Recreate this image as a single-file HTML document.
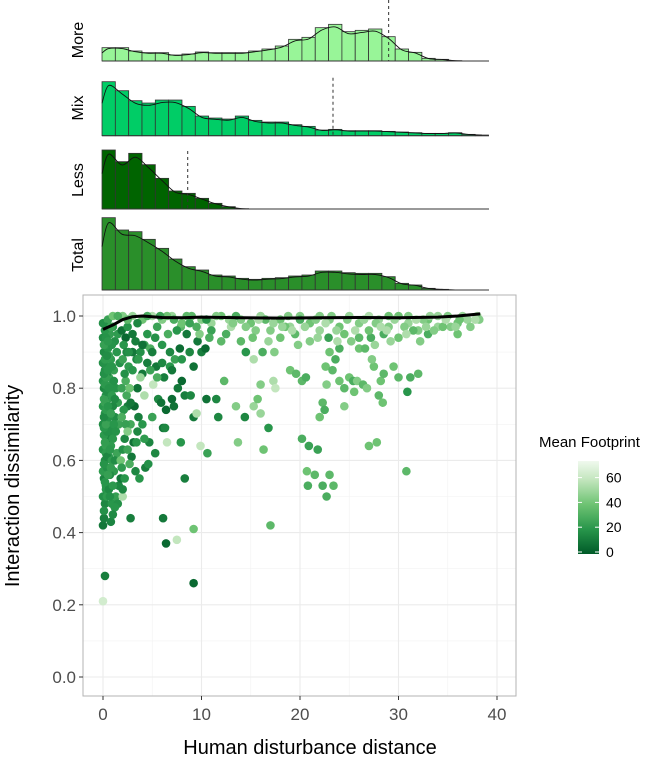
<!DOCTYPE html>
<html><head><meta charset="utf-8"><style>
body{margin:0;background:#fff;}
svg{display:block;font-family:"Liberation Sans",sans-serif;}
</style></head><body>
<svg id="c" width="663" height="758" xmlns="http://www.w3.org/2000/svg"></svg>
<script>
// ---- data ----
const binStart=-0.1, binWidth=1.353;
const moreCounts=[40,40,30,25,25,18,21,27,25,25,25,30,36,45,65,71,100,110,88,92,96,73,36,26,8,5,1,0,0];
const mixCounts=[162,135,105,98,107,107,88,59,53,50,59,46,41,41,33,28,17,19,15,15,15,13,11,9,7,7,9,4,2];
const lessCounts=[177,142,167,133,92,54,47,32,17,7,1,0,0,0,0,0,0,0,0,0,0,0,0,0,0,0,0,0,0];
const totalCounts=[217,180,175,152,125,93,70,60,45,42,35,32,35,37,42,45,57,57,52,50,50,40,20,15,5,2,0,0,0];
const histNames=["More","Mix","Less","Total"];
const histMeans=[29.0,23.35,8.6,null];
const xTicks=[0,10,20,30,40];
const yTicks=[0,0.2,0.4,0.6,0.8,1.0];
const yTickLabels=["0.0","0.2","0.4","0.6","0.8","1.0"];
const legendTicks=[0,20,40,60];
const smoothX=[0,1,2,3,4,6,8,10,14,18,22,26,30,34,36,38.3];
const smoothY=[0.963,0.975,0.99,0.998,1.0,0.996,0.995,0.997,0.995,0.994,0.995,0.996,0.995,0.997,1.0,1.006];
const ptsX=[],ptsY=[],ptsC=[];
const raw=[[0,0.42,10],[0.1,0.44,12],[0.2,0.48,15],[0,0.5,18],[0.3,0.53,20],[0.1,0.55,14],[0,0.57,22],[0.4,0.58,18],[0.2,0.6,16],[0.6,0.61,20],[0,0.63,19],[0.3,0.64,24],[0.5,0.66,15],[0.1,0.67,21],[0.8,0.68,18],[0,0.7,17],[0.4,0.71,23],[0.2,0.73,19],[0.7,0.74,16],[0,0.75,20],[0.5,0.77,22],[0.3,0.78,18],[0.1,0.8,15],[0.9,0.81,21],[0,0.82,19],[0.6,0.83,24],[0.2,0.85,17],[0.4,0.86,20],[0,0.87,18],[0.8,0.88,22],[0.1,0.9,16],[0.5,0.91,19],[0.3,0.92,21],[0,0.94,17],[0.7,0.95,23],[0.2,0.96,20],[0,0.98,18],[0.5,0.99,25],[1.0,0.97,22],[1.2,0.93,18],[1.4,0.9,20],[1.1,0.85,24],[1.3,0.8,19],[1.5,0.76,23],[1.2,0.72,17],[1.0,0.66,21],[1.4,0.62,26],[1.1,0.57,22],[1.6,0.53,15],[1.3,0.5,24],[0.9,0.48,20],[1.8,0.55,10],[1.5,0.48,18],[0.8,0.43,14],[0.2,0.28,12],[0,0.21,65],
[0.3,0.62,22],[0.6,0.69,18],[0.2,0.76,25],[0.7,0.79,20],[0.4,0.84,16],[0.6,0.89,24],[0.9,0.92,19],[0.3,0.52,20],[0.7,0.56,17],[0.5,0.72,28],[1.0,0.75,15],[0.8,0.64,22],[1.6,0.7,25],[1.7,0.87,18],[1.5,0.95,22],
[0.1,0.46,18],[0.4,0.5,22],[0.6,0.52,16],[0.2,0.54,20],[0.5,0.56,24],[0.1,0.59,19],[0.4,0.61,15],[0.7,0.63,21],[0.2,0.65,23],[0.4,0.68,18],[0.1,0.69,20],[0.3,0.7,25],[0.6,0.72,19],[0.1,0.72,16],[0.3,0.74,22],[0.5,0.75,20],[0.1,0.77,24],[0.4,0.79,17],[0.2,0.81,21],[0.6,0.8,19],[0.3,0.83,23],[0.1,0.84,18],[0.5,0.85,20],[0.2,0.88,22],[0.4,0.89,17],[0.1,0.92,24],[0.3,0.94,19],[0.5,0.93,21],[0.3,0.97,18],[0.8,0.97,26],[0.9,0.86,20],[1.1,0.82,18],[0.9,0.78,22],[1.2,0.77,16],[0.8,0.73,24],[1.1,0.7,20],[1.3,0.68,19],[0.9,0.6,22],[1.2,0.6,17],[0.8,0.58,23],[1.0,0.53,21],[0.7,0.5,18],[1.2,0.47,20],[1.0,0.45,16],
[2,0.88,25],[2.3,0.82,30],[2.5,0.75,12],[2.8,0.7,28],[2.2,0.66,15],[2.9,0.61,10],[3.1,0.65,8],[2.7,0.59,30],[2,0.5,55],[1.8,0.6,40],[2.8,0.44,12],[3.3,0.57,15],[3.7,0.55,20],[4.7,0.65,14],[4.3,0.58,12],[5.3,0.62,15],[4.6,0.59,18],[3.5,0.8,8],[3.2,0.75,5],[4.0,0.84,10],[4.5,0.87,12],[4.2,0.78,55],[3.8,0.83,50],[5.1,0.81,60],[5.6,0.77,15],[6.1,0.69,10],[6.3,0.69,15],[5.9,0.76,8],[6.4,0.74,5],[6.5,0.65,60],[7.0,0.77,6],[7.2,0.75,8],[7.6,0.8,10],[8.0,0.82,5],[8.3,0.78,12],[7.9,0.65,20],[8.3,0.55,12],[9.2,0.72,10],[9.5,0.73,55],[9.2,0.86,8],[9.6,0.93,10],[10,0.9,12],[10.4,0.91,5],[10.5,0.77,8],[11.5,0.77,15],[10.6,0.62,25],[9.9,0.64,60],[8.9,0.78,15],[7.8,0.91,6],[6.8,0.9,15],[6.0,0.92,20],[5.3,0.94,18],[6.1,0.44,10],[6.4,0.37,5],[7.5,0.38,60],[9.2,0.41,40],[9.2,0.26,5],[2.8,0.76,10],[3.3,0.93,12],[4.5,0.95,20],[8.5,0.95,10],[1.9,0.96,8],[2.3,0.94,5],
[2.1,0.92,20],[2.4,0.9,15],[2.6,0.86,22],[2.2,0.84,18],[1.9,0.8,25],[2.4,0.78,28],[2.1,0.74,20],[1.9,0.72,30],[2.3,0.7,24],[2.0,0.63,18],[2.5,0.63,26],[1.9,0.58,22],[2.2,0.55,20],[2.0,0.52,15],[2.5,0.68,45],[2.7,0.8,40],[3.0,0.85,20],[3.4,0.88,15],[3.0,0.9,10],[3.8,0.9,18],[4.2,0.92,25],[4.8,0.91,30],[3.6,0.72,12],[4.0,0.7,20],[3.5,0.68,15],[4.2,0.66,22],[5.0,0.72,25],[5.4,0.86,10],[6.2,0.83,12],[6.8,0.86,20],[7.3,0.88,25],[8.8,0.9,15],[9.8,0.95,45],[6.6,0.95,30],[7.9,0.97,35],[3.4,0.65,20],
[11.7,0.72,15],[12.3,0.82,35],[13.5,0.75,45],[14.4,0.72,15],[13.7,0.65,45],[14.5,0.9,20],[15.3,0.88,55],[15.3,0.75,50],[15.7,0.77,40],[16,0.81,45],[16,0.73,50],[16.3,0.63,40],[16.8,0.69,20],[17.3,0.82,55],[17.5,0.8,60],[17.4,0.9,45],[16.2,0.9,30],[17,0.42,35],[19,0.85,40],[19.6,0.84,35],[20.2,0.82,35],[20.6,0.83,30],[20.2,0.66,30],[20.7,0.57,40],[20.8,0.53,30],[20.9,0.64,25],[21.5,0.56,35],[21.8,0.63,25],[22.3,0.53,30],[22.7,0.5,30],[23.0,0.56,35],[23.4,0.53,35],[22.3,0.76,35],[22.5,0.74,30],[22.0,0.72,40],[22.7,0.81,45],[22.6,0.86,40],[23.3,0.85,35],[23.6,0.88,30],[23.0,0.9,40],[22.9,0.94,25],[24.0,0.82,40],[24.5,0.8,35],[24.5,0.75,45],[25,0.83,40],[25.4,0.82,30],[25.8,0.82,45],[25.5,0.79,40],[26.4,0.81,35],[26.8,0.8,45],[27.5,0.86,40],[27.3,0.88,45],[28.2,0.82,40],[28.5,0.84,35],[28.0,0.78,35],[28.4,0.76,40],[29.5,0.86,40],[30.0,0.83,35],[30.9,0.79,20],[31.2,0.83,30],[32.0,0.84,35],[30.8,0.57,35],[27.0,0.64,40],[27.8,0.65,40],[24.0,0.91,30],[26.0,0.91,40],[26.6,0.91,35],[27.2,0.94,30],[36,0.95,40],[35.3,0.97,45],
[1,1,40],[2,1,45],[3,1,50],[4,0.99,40],[5,1,55],[6,0.99,45],[7,1,50],[8,0.98,40],[9,1,35],[10,0.99,45],[11,0.98,50],[12,1,40],[13,0.97,55],[14,0.99,45],[15,0.98,40],[16,1,50],[17,0.96,45],[18,0.99,40],[19,0.97,50],[20,1,45],[21,0.98,40],[22,0.96,50],[23,0.99,45],[24,0.97,40],[25,1,50],[26,0.98,45],[27,0.96,40],[28,0.99,50],[29,0.97,45],[30,1,40],[31,0.98,50],[32,0.96,45],[33,0.99,40],[34,0.97,50],[35,1,45],[36,0.98,40],[37,0.99,50],[38,1,55],
[12.5,0.95,30],[14,0.93,35],[15.5,0.96,45],[18,0.94,40],[19.5,0.95,35],[21,0.93,45],[24.5,0.95,40],[26,0.94,35],[28.5,0.95,30],[30,0.94,40],[31.5,0.96,35],[33,0.95,30],[34.5,0.97,40],[11,0.96,25],[9.5,0.97,30],[7.5,0.96,20],[5.5,0.97,25],[3.5,0.98,15],[2.5,0.97,20],[20,0.99,30],[10.5,0.99,20],[13.5,1,30],[16.5,0.99,35],[29,1,40],[32.5,0.99,45],[36.5,1,50],[38.2,0.99,45],
[1.5,1,30],[2.5,0.99,35],[4.5,1,30],[6.5,1,40],[8.5,1,35],[3,0.95,10],[4,0.92,8],[5,0.9,12],[6,0.87,15],[7,0.85,10],[8,0.88,20],[4.8,0.85,25],[3.6,0.88,22],[2.6,0.9,18],[5.5,0.83,30],[18.5,0.97,40],[22,1,45],[27,1,55],[31,1,45],[34,1,50],
[11.5,1,45],[12.8,0.99,50],[14.5,0.97,45],[15.8,0.99,55],[17.3,0.98,50],[18.8,1,45],[19.2,0.96,55],[20.5,0.97,50],[21.6,0.99,45],[22.6,0.98,55],[23.7,0.96,50],[24.8,0.99,45],[25.6,0.96,55],[26.5,0.99,50],[27.7,0.98,45],[28.8,0.96,55],[29.6,0.99,50],[30.6,0.97,45],[31.8,0.99,55],[32.8,0.97,50],[33.6,0.96,45],[34.8,0.99,55],[35.8,0.97,50],[37.3,0.97,45],[37.8,0.99,55],[36.2,0.99,40],[33.2,1,50],[28.2,0.97,55],[23.2,1,45],[18.2,0.97,50],[13.2,0.98,45],[16.8,0.93,50],[19.8,0.92,45],[21.8,0.94,50],[25.2,0.93,45],[29.2,0.93,50],[32.2,0.93,45],[30.8,0.95,55],[27.6,0.92,50],[23.8,0.93,55],[15.2,0.94,40],[12.0,0.93,35],[10.8,0.94,30],[8.8,0.98,25],[7.2,0.99,30],[5.8,1,25]];
raw.forEach(p=>{ptsX.push(p[0]);ptsY.push(p[1]);ptsC.push(p[2]);});

// ---- scales ----
const X0=103, XPX=9.85; const sx=v=>X0+v*XPX;
const Y0=677, YPX=361; const sy=v=>Y0-v*YPX;
const stops=[[0,[0,90,40]],[20,[40,150,75]],[40,[110,195,115]],[60,[195,230,190]],[75,[240,249,238]]];
function col(c){for(let i=0;i<stops.length-1;i++){const a=stops[i],b=stops[i+1];if(c<=b[0]||i==stops.length-2){const t=Math.max(0,Math.min(1,(c-a[0])/(b[0]-a[0])));const r=a[1].map((v,k)=>Math.round(v+(b[1][k]-v)*t));return `rgb(${r})`;}}}
const svg=document.getElementById('c');const NS="http://www.w3.org/2000/svg";
function el(t,a,p){const e=document.createElementNS(NS,t);for(const k in a)e.setAttribute(k,a[k]);(p||svg).appendChild(e);return e;}

// ---- histograms ----
const histData=[moreCounts,mixCounts,lessCounts,totalCounts];
const histBase=[61,135.7,209,290];
const histFill=["#98f598","#00cd66","#006400","#2a8f2a"];
const histLabelY=[40,108,180,255];
const HS=1/3;
histData.forEach((arr,h)=>{
  const g=el('g',{});
  
  
  const base=histBase[h];
  arr.forEach((v,i)=>{
    if(v<=0)return;
    const r=el('rect',{x:sx(binStart+i*binWidth),y:base-v*HS,width:binWidth*XPX,height:v*HS,fill:histFill[h],stroke:'#333',"stroke-width":0.8},g);
    
    
  });
  let pts=arr.map((v,i)=>[sx(binStart+(i+0.5)*binWidth),base-v*HS*0.93]);
  pts.unshift([sx(binStart),base-arr[0]*HS*0.6]);
  let d="M"+pts[0][0]+","+pts[0][1];
  for(let i=0;i<pts.length-1;i++){const p0=pts[Math.max(0,i-1)],p1=pts[i],p2=pts[i+1],p3=pts[Math.min(pts.length-1,i+2)];
    d+=` C${p1[0]+(p2[0]-p0[0])/6},${p1[1]+(p2[1]-p0[1])/6} ${p2[0]-(p3[0]-p1[0])/6},${p2[1]-(p3[1]-p1[1])/6} ${p2[0]},${p2[1]}`;}
  const dl=el('path',{d:d,fill:'none',stroke:'#111',"stroke-width":0.9},g);
  
  
  const bl=el('line',{x1:102,x2:489,y1:base,y2:base,stroke:'#333',"stroke-width":1},g);
  
  
  if(histMeans[h]!==null){
    const ml=el('line',{x1:sx(histMeans[h]),x2:sx(histMeans[h]),y1:base-(h==0?61:58),y2:base,stroke:'#333',"stroke-width":1,"stroke-dasharray":"3,3"},g);
    
    
  }
  const t=el('text',{x:0,y:0,transform:`translate(83,${histLabelY[h]}) rotate(-90)`,"text-anchor":"middle","font-size":16,fill:'#000'},g);
  t.textContent=histNames[h];
  
  
});

// ---- scatter panel ----
const PL=83,PR=516,PT=295,PB=696;
const grid=el('g',{});


[5,15,25,35].forEach(v=>el('line',{x1:sx(v),x2:sx(v),y1:PT,y2:PB,stroke:'#f2f2f2',"stroke-width":0.6},grid));
[0.1,0.3,0.5,0.7,0.9].forEach(v=>el('line',{x1:PL,x2:PR,y1:sy(v),y2:sy(v),stroke:'#f2f2f2',"stroke-width":0.6},grid));
xTicks.forEach(v=>el('line',{x1:sx(v),x2:sx(v),y1:PT,y2:PB,stroke:'#ebebeb',"stroke-width":1.1},grid));
yTicks.forEach(v=>el('line',{x1:PL,x2:PR,y1:sy(v),y2:sy(v),stroke:'#ebebeb',"stroke-width":1.1},grid));

const pg=el('g',{});


ptsX.forEach((x,i)=>{
  const c=el('circle',{cx:sx(x),cy:sy(ptsY[i]),r:4.3,fill:col(ptsC[i])},pg);
  
  
});
let sd=smoothX.map((x,i)=>(i?'L':'M')+sx(x)+','+sy(smoothY[i])).join(' ');
const sm=el('path',{d:sd,fill:'none',stroke:'#000',"stroke-width":3,"stroke-linejoin":"round"});


const fr=el('rect',{x:PL,y:PT,width:PR-PL,height:PB-PT,fill:'none',stroke:'#b3b3b3',"stroke-width":1});



xTicks.forEach(v=>{
  el('line',{x1:sx(v),x2:sx(v),y1:PB,y2:PB+4,stroke:'#333'});
  const t=el('text',{x:sx(v),y:PB+24,"text-anchor":"middle","font-size":17,fill:'#4d4d4d'});
  t.textContent=v;
  
  
});
yTicks.forEach((v,i)=>{
  el('line',{x1:PL-4,x2:PL,y1:sy(v),y2:sy(v),stroke:'#333'});
  const t=el('text',{x:PL-7,y:sy(v)+6,"text-anchor":"end","font-size":17,fill:'#4d4d4d'});
  t.textContent=yTickLabels[i];
  
  
});
const xt=el('text',{x:310,y:754,"text-anchor":"middle","font-size":20,fill:'#000'});
xt.textContent="Human disturbance distance";


const yt=el('text',{x:0,y:0,transform:"translate(19,486) rotate(-90)","text-anchor":"middle","font-size":20,fill:'#000'});
yt.textContent="Interaction dissimilarity";



// ---- legend ----
const lg=el('g',{});


const lt=el('text',{x:539,y:447,"font-size":15,fill:'#000'},lg);
lt.textContent="Mean Footprint";


const defs=el('defs',{});
const gr=el('linearGradient',{id:'gb',x1:0,y1:1,x2:0,y2:0},defs);
const LB=554,LTOP=461,LMAX=75,LPX=(LB-LTOP)/LMAX;
for(let v=0;v<=LMAX;v+=5){el('stop',{offset:v/LMAX,"stop-color":col(v)},gr);}
const bar=el('rect',{x:578,y:LTOP,width:21,height:LB-LTOP,fill:'url(#gb)'},lg);


legendTicks.forEach(v=>{
  const y=LB-2-v*LPX;
  el('line',{x1:578,x2:582,y1:y,y2:y,stroke:'#fff'},lg);
  el('line',{x1:595,x2:599,y1:y,y2:y,stroke:'#fff'},lg);
  const t=el('text',{x:606,y:y+5,"font-size":14,fill:'#000'},lg);
  t.textContent=v;
  
  
});
</script>
</body></html>
